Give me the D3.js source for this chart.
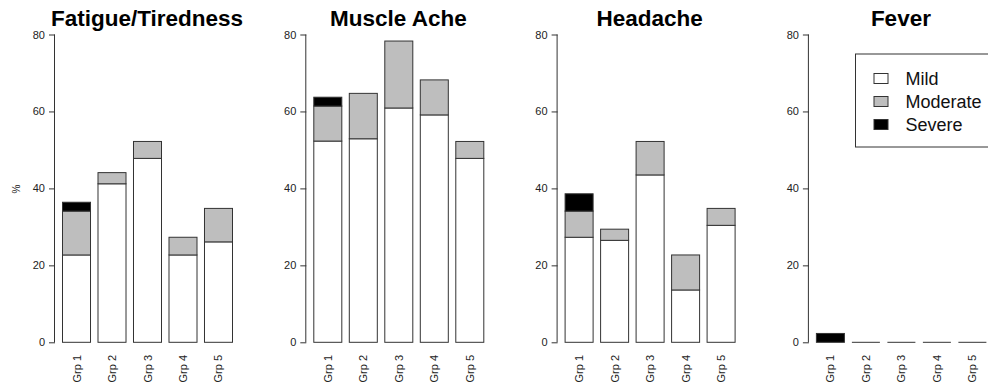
<!DOCTYPE html>
<html>
<head>
<meta charset="utf-8">
<script src="https://cdn.jsdelivr.net/npm/d3@7"></script>
<style>
  html, body { margin: 0; padding: 0; background: #fff; }
  svg { display: block; font-family: "Liberation Sans", Arial, sans-serif; }
</style>
</head>
<body>
<svg id="chart" width="988" height="392"></svg>
<script>
// ---- data ----
const groups = ["Grp 1", "Grp 2", "Grp 3", "Grp 4", "Grp 5"];
const symptoms = ["Fatigue/Tiredness", "Muscle Ache", "Headache", "Fever"];
const severities = ["Mild", "Moderate", "Severe"];
const yTicks = [0, 20, 40, 60, 80];

const fatigueMild     = [22.7, 41.2, 47.8, 22.7, 26.1];
const fatigueModerate = [11.4, 2.9, 4.4, 4.6, 8.7];
const fatigueSevere   = [2.3, 0, 0, 0, 0];

const muscleMild      = [52.3, 52.9, 60.9, 59.1, 47.8];
const muscleModerate  = [9.1, 11.8, 17.4, 9.1, 4.4];
const muscleSevere    = [2.3, 0, 0, 0, 0];

const headacheMild     = [27.3, 26.5, 43.5, 13.6, 30.4];
const headacheModerate = [6.8, 2.9, 8.7, 9.1, 4.4];
const headacheSevere   = [4.5, 0, 0, 0, 0];

const feverMild     = [0, 0, 0, 0, 0];
const feverModerate = [0, 0, 0, 0, 0];
const feverSevere   = [2.3, 0, 0, 0, 0];

const panelData = [
  [fatigueMild, fatigueModerate, fatigueSevere],
  [muscleMild, muscleModerate, muscleSevere],
  [headacheMild, headacheModerate, headacheSevere],
  [feverMild, feverModerate, feverSevere]
];

// ---- drawing ----
const svg = d3.select("#chart");
const fills = d3.scaleOrdinal().domain(severities).range(["#ffffff", "#bebebe", "#000000"]);
const y = d3.scaleLinear().domain([0, 80]).range([342.3, 34.5]);
const strokeCol = "#333";

symptoms.forEach((sym, pi) => {
  const ax = 55 + pi * 251.3;
  const g = svg.append("g");
  const x = d3.scaleBand().domain(groups).range([ax + 7.5, ax + 177.5]).paddingInner(0.211).paddingOuter(0);

  // title
  g.append("text")
    .attr("x", ax + 92).attr("y", 26)
    .attr("text-anchor", "middle")
    .attr("font-size", "22.5px").attr("font-weight", "bold")
    .attr("fill", "#000")
    .text(sym);

  // y axis
  const yAxis = d3.axisLeft(y).tickValues(yTicks).tickSize(6).tickPadding(4);
  const ag = g.append("g").attr("transform", `translate(${ax},0)`).call(yAxis);
  ag.select(".domain").attr("d", `M-0.5,${y(80)}V${y(0)}`).attr("stroke", "#333");
  ag.selectAll(".tick line").attr("stroke", "#333");
  ag.selectAll(".tick text").attr("font-size", "11px").attr("fill", "#222")
    .attr("font-family", "Liberation Sans, Arial, sans-serif");

  // stacked bars
  const [mild, mod, sev] = panelData[pi];
  groups.forEach((grp, gi) => {
    const vals = [mild[gi], mod[gi], sev[gi]];
    const total = d3.sum(vals);
    const bx = x(grp), bw = x.bandwidth();
    if (total === 0) {
      g.append("path")
        .attr("d", `M${bx},${y(0)}h${bw}`)
        .attr("stroke", strokeCol).attr("stroke-width", 1).attr("fill", "none");
      return;
    }
    let cum = 0;
    vals.forEach((v, si) => {
      if (v <= 0) return;
      const y0 = y(cum), y1 = y(cum + v);
      cum += v;
      g.append("rect")
        .attr("x", bx).attr("y", y1)
        .attr("width", bw).attr("height", y0 - y1)
        .attr("fill", fills(severities[si]))
        .attr("stroke", strokeCol).attr("stroke-width", 1);
    });
  });

  // x labels (rotated)
  groups.forEach(grp => {
    const cx = x(grp) + x.bandwidth() / 2 + 4;
    g.append("text")
      .attr("transform", `translate(${cx},355) rotate(-90)`)
      .attr("text-anchor", "end")
      .attr("font-size", "11px").attr("fill", "#222")
      .text(grp);
  });
});

// "%" y label
svg.append("text")
  .attr("transform", "translate(19.5,189) rotate(-90)")
  .attr("text-anchor", "middle")
  .attr("font-size", "10px").attr("fill", "#222")
  .text("%");

// legend
const lg = svg.append("g");
lg.append("rect").attr("x", 855.5).attr("y", 54).attr("width", 150).attr("height", 93)
  .attr("fill", "#fff").attr("stroke", "#333").attr("stroke-width", 1);
severities.forEach((s, i) => {
  const cy = 78.5 + i * 23;
  lg.append("rect").attr("x", 874).attr("y", cy - 5).attr("width", 14).attr("height", 10)
    .attr("fill", fills(s)).attr("stroke", "#333").attr("stroke-width", 1);
  lg.append("text").attr("x", 905.5).attr("y", cy + 6.5)
    .attr("font-size", "18px").attr("fill", "#111")
    .text(s);
});
</script>
</body>
</html>
